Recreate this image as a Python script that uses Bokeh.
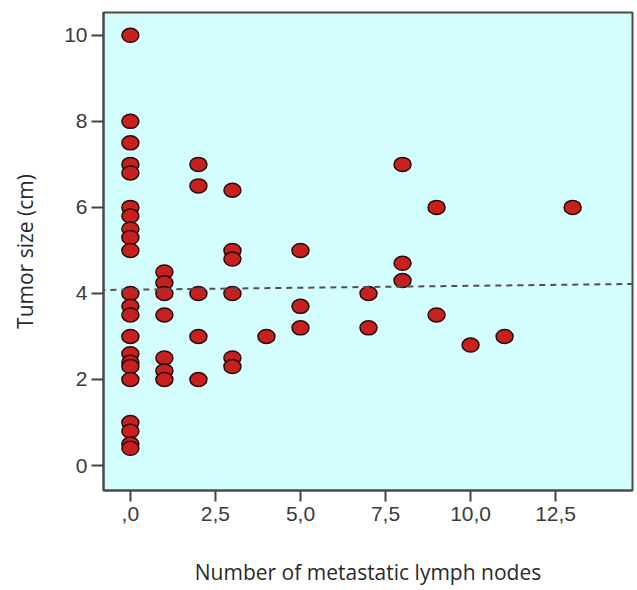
from bokeh.plotting import figure
from bokeh.models import FixedTicker, Range1d, Slope, ColumnDataSource
from bokeh.embed import file_html
from bokeh.resources import INLINE

# ---- data ----
lymph_nodes = [0]*22 + [1]*7 + [2]*5 + [3]*6 + [4] + [5]*3 + [7]*2 + [8]*3 + [9]*2 + [10] + [11] + [13]
tumor_size = [10, 8, 7.5, 7, 6.8, 6, 5.8, 5.5, 5.3, 5, 4, 3.7, 3.5, 3, 2.6, 2.4, 2.3, 2, 1, 0.8, 0.5, 0.4,
              4.5, 4.25, 4, 3.5, 2.5, 2.2, 2,
              7, 6.5, 4, 3, 2,
              6.4, 5, 4.8, 4, 2.5, 2.3,
              3,
              5, 3.7, 3.2,
              4, 3.2,
              7, 4.7, 4.3,
              6, 3.5,
              2.8,
              3,
              6]

x_ticks = [0, 2.5, 5, 7.5, 10, 12.5]
x_tick_labels = [",0", "2,5", "5,0", "7,5", "10,0", "12,5"]
y_ticks = [0, 2, 4, 6, 8, 10]

fit_intercept = 4.087
fit_slope = 0.009

src = ColumnDataSource(dict(x=lymph_nodes, y=tumor_size))

p = figure(width=634, height=588, output_backend="svg", toolbar_location=None,
           x_range=Range1d(-0.79, 14.76), y_range=Range1d(-0.58, 10.53),
           min_border_left=103, min_border_right=2, min_border_top=12, min_border_bottom=97)

p.background_fill_color = "#d4fdfd"
p.border_fill_color = "white"
p.outline_line_color = "#4a4a4a"
p.outline_line_width = 2
p.grid.visible = False

p.add_layout(Slope(gradient=fit_slope, y_intercept=fit_intercept,
                   line_color="#505050", line_width=2, line_dash="6 5"))

p.ellipse(x="x", y="y", width=17, height=14, width_units="screen", height_units="screen",
          source=src, fill_color="#c8201e", line_color="#2a0a0a", line_width=1.5)

tick_font = "Liberation Sans"
label_font = "Open Sans"

p.xaxis.ticker = FixedTicker(ticks=x_ticks)
p.xaxis.major_label_overrides = {t: l for t, l in zip(x_ticks, x_tick_labels)}
p.yaxis.ticker = FixedTicker(ticks=y_ticks)

for ax in (p.xaxis[0], p.yaxis[0]):
    ax.axis_line_color = "#4a4a4a"
    ax.axis_line_width = 2
    ax.major_tick_line_color = "#444444"
    ax.major_tick_line_width = 2
    ax.major_tick_in = 0
    ax.minor_tick_line_color = None
    ax.major_label_text_font = tick_font
    ax.major_label_text_font_size = "21px"
    ax.major_label_text_color = "#3a3a3a"
    ax.axis_label_text_font = label_font
    ax.axis_label_text_font_size = "21px"
    ax.axis_label_text_font_style = "normal"
    ax.axis_label_text_color = "#2a2a2a"

p.xaxis.major_tick_out = 11
p.xaxis.major_label_standoff = 5
p.xaxis.axis_label = "Number of metastatic lymph nodes"
p.xaxis.axis_label_standoff = 34

p.yaxis.major_tick_out = 12
p.yaxis.major_label_standoff = 4
p.yaxis.axis_label = "Tumor size (cm)"
p.yaxis.axis_label_standoff = 22

open("out.html", "w").write(file_html(p, INLINE))
